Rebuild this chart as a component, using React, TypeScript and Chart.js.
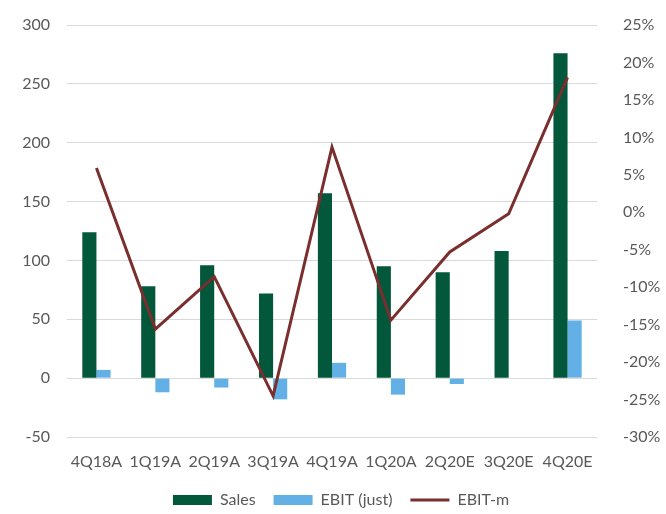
import React, { useEffect, useRef } from "react";
import { Chart, registerables } from "chart.js";

Chart.register(...registerables);

const categories = ["4Q18A", "1Q19A", "2Q19A", "3Q19A", "4Q19A", "1Q20A", "2Q20E", "3Q20E", "4Q20E"];
const sales = [124, 78, 96, 72, 157, 95, 90, 108, 276];
const ebit = [7, -12, -8, -18, 13, -14, -5, 0, 49];
const ebitMargin = [5.9, -15.6, -8.6, -24.5, 8.7, -14.4, -5.3, -0.2, 18];
const leftTicks = { min: -50, max: 300, step: 50 };
const rightTicks = { min: -30, max: 25, step: 5 };

const FONT = "Lato";
const TEXT = "#595959";

export default function App() {
  const ref = useRef<HTMLCanvasElement | null>(null);
  useEffect(() => {
    if (!ref.current) return;
    const chart: any = new Chart(ref.current, {
      type: "bar",
      data: {
        labels: categories,
        datasets: [
          {
            type: "bar",
            label: "Sales",
            data: sales,
            backgroundColor: "#03573b",
            yAxisID: "y",
            categoryPercentage: 0.48,
            barPercentage: 1,
            order: 1,
          },
          {
            type: "bar",
            label: "EBIT (just)",
            data: ebit,
            backgroundColor: "#63b0e6",
            yAxisID: "y",
            categoryPercentage: 0.48,
            barPercentage: 1,
            order: 1,
          },
          {
            type: "line",
            label: "EBIT-m",
            data: ebitMargin,
            borderColor: "#7a2e2e",
            backgroundColor: "#7a2e2e",
            borderWidth: 3,
            pointRadius: 0,
            tension: 0,
            yAxisID: "y1",
            order: 0,
          },
        ],
      },
      options: {
        animation: false,
        responsive: false,
        maintainAspectRatio: false,
        layout: { padding: { top: 25, bottom: -4, left: 16, right: 0 } },
        font: { family: FONT, size: 16 },
        scales: {
          x: {
            grid: { display: false, tickLength: 13 },
            border: { display: false },
            ticks: { color: TEXT, font: { family: FONT, size: 16 }, padding: 2.4, maxRotation: 0 },
          },
          y: {
            position: "left",
            min: leftTicks.min,
            max: leftTicks.max,
            grid: { color: "#d9d9d9", lineWidth: 1, drawTicks: false },
            border: { display: false },
            ticks: { stepSize: leftTicks.step, color: TEXT, font: { family: FONT, size: 16 }, padding: 17 },
            afterFit: (s: any) => { s.width = 51; s.paddingTop = 5; s.paddingBottom = 5; },
          },
          y1: {
            position: "right",
            min: rightTicks.min,
            max: rightTicks.max,
            grid: { display: false },
            border: { display: false },
            ticks: {
              stepSize: rightTicks.step,
              color: TEXT,
              font: { family: FONT, size: 16 },
              padding: 18,
              callback: (v: any) => `${Math.round(Number(v))}%`,
            },
            afterFit: (s: any) => { s.width = 69; s.paddingTop = 5; s.paddingBottom = 5; },
          },
        },
        plugins: {
          tooltip: { enabled: false },
          legend: {
            position: "bottom",
            labels: {
              color: TEXT,
              font: { family: FONT, size: 16 },
              usePointStyle: true,
              pointStyleWidth: 39,
              boxHeight: 10,
              padding: 18,
              sort: (a: any, b: any) => a.datasetIndex - b.datasetIndex,
              generateLabels: (c: any) => {
                const items = Chart.defaults.plugins.legend.labels.generateLabels(c);
                return items.map((it: any) => {
                  if (it.datasetIndex === 2) {
                    return { ...it, pointStyle: "line", lineWidth: 3, strokeStyle: "#7a2e2e" };
                  }
                  return { ...it, pointStyle: "rect", lineWidth: 0 };
                });
              },
            },
          },
        },
      },
    });
    return () => chart.destroy();
  }, []);
  return (
    <div style={{ position: "absolute", left: 0, top: 0, width: 666, height: 514, background: "#fff" }}>
      <canvas ref={ref} width={666} height={514} style={{ width: 666, height: 514 }} />
    </div>
  );
}
